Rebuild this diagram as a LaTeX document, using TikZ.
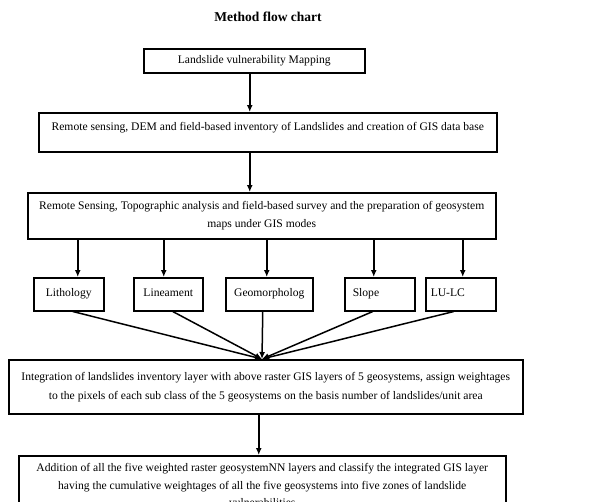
\documentclass[tikz,border=0pt]{standalone}
\usepackage{fontspec}
\setmainfont{Liberation Serif}
\usetikzlibrary{arrows.meta, positioning}

\begin{document}
\begin{tikzpicture}[x=1pt, y=-1pt,
      box/.style={rectangle, draw, line width=1.5pt, inner xsep=4pt, inner ysep=3pt,
                  align=center, font=\fontsize{11.6}{17.5}\selectfont},
      geo/.style={box, minimum height=33pt, anchor=north west, text height=8pt, text depth=3.5pt},
      arr/.style={-{Latex[length=7pt, width=6pt]}, line width=1.5pt}
    ]
    \useasboundingbox (0,0) rectangle (616,501);

    \node[font=\fontsize{13.5}{16}\selectfont\bfseries] (title) at (268,17) {Method flow chart};

    \node[box, anchor=north west, minimum width=221pt, minimum height=24pt] (map) at (143,48)
        {Landslide vulnerability Mapping};
    \node[box, anchor=north west, minimum width=458pt, minimum height=39pt,
          text height=8.5pt, text depth=11.5pt] (inv) at (38,112)
        {Remote sensing, DEM and field-based inventory of Landslides and creation of GIS data base};
    \node[box, anchor=north west, minimum width=468pt, minimum height=46pt] (rs) at (27,192)
        {Remote Sensing, Topographic analysis and field-based survey and the preparation of geosystem\\
         maps under GIS modes};

    % geosystem layers
    \node[geo, minimum width=70pt] (lith) at (33,277) {Lithology};
    \node[geo, minimum width=69pt] (line) at (133,277) {Lineament};
    \node[geo, minimum width=87pt] (geom) at (225,277) {Geomorpholog};
    \node[geo, inner xsep=8pt, text width=54pt, align=left] (slope) at (344,277) {Slope};
    \node[geo, inner xsep=5pt, text width=60pt, align=left] (lulc) at (425,277) {LU-LC};

    \node[box, anchor=north west, minimum width=514pt, minimum height=54pt,
          font=\fontsize{11.6}{19}\selectfont] (integ) at (8,359)
        {Integration of landslides inventory layer with above raster GIS layers of 5 geosystems, assign weightages\\
         to the pixels of each sub class of the 5 geosystems on the basis number of landslides/unit area};
    \node[box, anchor=north west, minimum width=487pt, inner ysep=8pt] (add) at (18,455)
        {Addition of all the five weighted raster geosystemNN layers and classify the integrated GIS layer\\
         having the cumulative weightages of all the five geosystems into five zones of landslide\\
         vulnerabilities};

    \coordinate (join) at (262,359);

    \draw[arr] ([xshift=-4.5pt]map.south) -- ([xshift=-4.5pt]map.south |- inv.north);
    \draw[arr] ([xshift=-18pt]inv.south) -- ([xshift=-18pt]inv.south |- rs.north);

    \draw[arr] ([xshift=9pt]lith.north |- rs.south) -- ([xshift=9pt]lith.north);
    \draw[arr] ([xshift=-4.5pt]line.north |- rs.south) -- ([xshift=-4.5pt]line.north);
    \draw[arr] ([xshift=-2.5pt]geom.north |- rs.south) -- ([xshift=-2.5pt]geom.north);
    \draw[arr] ([xshift=-6pt]slope.north |- rs.south) -- ([xshift=-6pt]slope.north);
    \draw[arr] ([xshift=2pt]lulc.north |- rs.south) -- ([xshift=2pt]lulc.north);

    \draw[arr] ([xshift=4pt]lith.south) -- (join);
    \draw[arr] ([xshift=4.5pt]line.south) -- (join);
    \draw[arr] ([xshift=-6.5pt]geom.south) -- (join);
    \draw[arr] ([xshift=-7pt]slope.south) -- (join);
    \draw[arr] ([xshift=-7pt]lulc.south) -- (join);

    \draw[arr] ([xshift=-7pt]integ.south) -- ([xshift=-7pt]integ.south |- add.north);
  \end{tikzpicture}
\end{document}
